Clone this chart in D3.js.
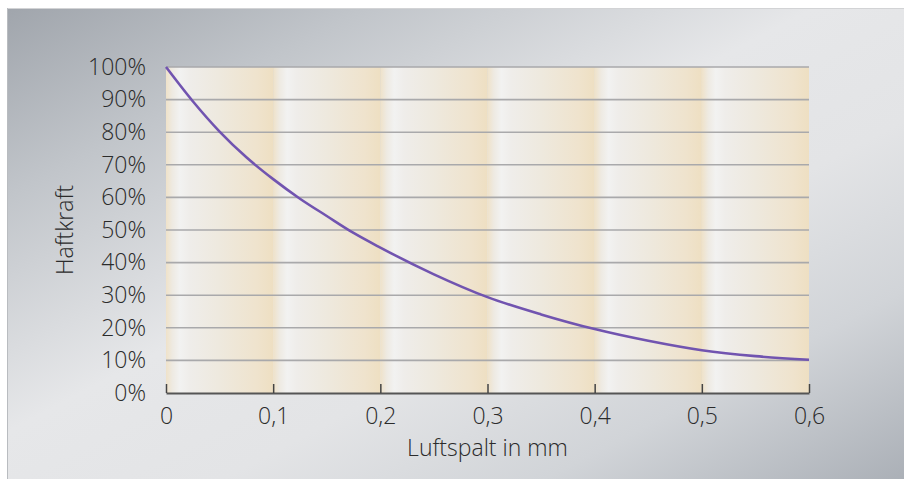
<!DOCTYPE html>
<html><head><meta charset="utf-8">
<script src="https://cdn.jsdelivr.net/npm/d3@7"></script>
<style>html,body{margin:0;padding:0;background:#fff;}svg{display:block;}</style>
</head><body>
<script>
const gapMm = [0, 0.025, 0.05, 0.075, 0.1, 0.125, 0.15, 0.175, 0.2, 0.25, 0.3, 0.35, 0.4, 0.45, 0.5, 0.55, 0.6];
const haftkraft = [100, 89.5, 80.2, 72.3, 65.6, 59.6, 54.3, 49.1, 44.6, 36.4, 29.4, 24.1, 19.6, 16.0, 13.1, 11.3, 10.2];
const xTicks = [0, 0.1, 0.2, 0.3, 0.4, 0.5, 0.6];
const xTickLabels = ["0", "0,1", "0,2", "0,3", "0,4", "0,5", "0,6"];
const yTicks = [0, 10, 20, 30, 40, 50, 60, 70, 80, 90, 100];
const xTitle = "Luftspalt in mm";
const yTitle = "Haftkraft";

const W = 904, H = 479;
const svg = d3.select("body").append("svg").attr("width", W).attr("height", H);
const defs = svg.append("defs");

const bg = defs.append("linearGradient").attr("id","bg").attr("x1","0").attr("y1","0").attr("x2","1").attr("y2","1");
[[0,"#a0a5ac"],[0.2,"#c1c5ca"],[0.45,"#e6e7e9"],[0.62,"#e3e4e6"],[0.8,"#d1d4d8"],[1,"#abb0b7"]]
  .forEach(([o,c])=>bg.append("stop").attr("offset",o).attr("stop-color",c));

const band = defs.append("linearGradient").attr("id","band").attr("x1","0").attr("y1","0").attr("x2","1").attr("y2","0");
[[0,"#efe2c9"],[0.06,"#eeeae2"],[0.13,"#f2f2f1"],[0.22,"#efedea"],[0.5,"#eee9de"],[0.85,"#efe3cd"],[1,"#eedfc2"]]
  .forEach(([o,c])=>band.append("stop").attr("offset",o).attr("stop-color",c));

svg.append("rect").attr("x",7).attr("y",8).attr("width",W-7).attr("height",H-8)
  .attr("fill","url(#bg)");
svg.append("line").attr("x1",7).attr("x2",W).attr("y1",8.5).attr("y2",8.5).attr("stroke","#d2d3d5").attr("stroke-width",1);
svg.append("line").attr("x1",7.5).attr("x2",7.5).attr("y1",8).attr("y2",H).attr("stroke","#b9bcc0").attr("stroke-width",1);

const x = d3.scaleLinear().domain([0,0.6]).range([166,809]);
const y = d3.scaleLinear().domain([0,100]).range([393,67]);

const font = "'Open Sans', 'Liberation Sans', Arial, sans-serif";
const fs = 23;
const fw = 300;
const tc = "#2b2b2b";

// bands
svg.append("g").selectAll("rect").data(xTicks.slice(0,-1)).join("rect")
  .attr("x", d=>x(d)).attr("y", y(100))
  .attr("width", d=>x(d+0.1)-x(d)).attr("height", y(0)-y(100))
  .attr("fill","url(#band)");

// gridlines
svg.append("g").selectAll("line").data(yTicks.filter(d=>d>0)).join("line")
  .attr("x1", x(0)).attr("x2", x(0.6))
  .attr("y1", d=>y(d)).attr("y2", d=>y(d))
  .attr("stroke","#a9a9ab").attr("stroke-width",1.6);

// x axis
const xAxis = d3.axisBottom(x).tickValues(xTicks).tickFormat((d,i)=>xTickLabels[i])
  .tickSizeInner(-9).tickSizeOuter(0).tickPadding(15);
const gx = svg.append("g").attr("transform",`translate(0,${y(0)})`).call(xAxis);
gx.select(".domain").attr("stroke","#555").attr("stroke-width",2);
gx.selectAll(".tick line").attr("stroke","#444").attr("stroke-width",1.5);
gx.selectAll("text").attr("font-family",font).attr("font-weight",fw).attr("font-size",fs).attr("fill",tc);

// y axis
const yAxis = d3.axisLeft(y).tickValues(yTicks).tickFormat(d=>d+"%").tickSize(0).tickPadding(20);
const gy = svg.append("g").attr("transform",`translate(${x(0)},0)`).call(yAxis);
gy.select(".domain").remove();
gy.selectAll("text").attr("font-family",font).attr("font-weight",fw).attr("font-size",fs).attr("fill",tc);

// titles
svg.append("text").attr("x", (x(0)+x(0.6))/2).attr("y", 456).attr("text-anchor","middle")
  .attr("font-family",font).attr("font-weight",fw).attr("font-size",fs).attr("fill",tc).text(xTitle);
svg.append("text").attr("transform",`translate(73,${(y(0)+y(100))/2}) rotate(-90)`).attr("text-anchor","middle")
  .attr("font-family",font).attr("font-weight",fw).attr("font-size",fs).attr("fill",tc).text(yTitle);

// curve
const line = d3.line().x((d,i)=>x(gapMm[i])).y(d=>y(d)).curve(d3.curveMonotoneX);
svg.append("path").datum(haftkraft).attr("d", line)
  .attr("fill","none").attr("stroke","#7154b0").attr("stroke-width",2.6);
</script>
</body></html>
